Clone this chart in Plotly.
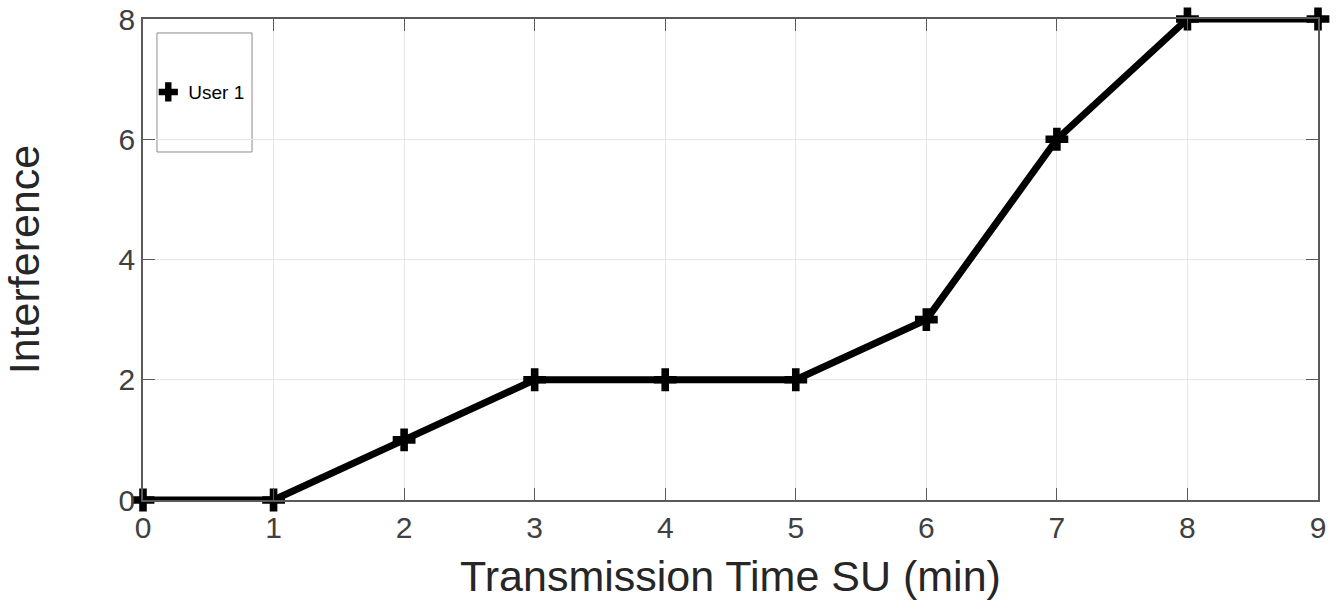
import plotly.graph_objects as go

x_vals = [0, 1, 2, 3, 4, 5, 6, 7, 8, 9]
user1 = [0, 0, 1, 2, 2, 2, 3, 6, 8, 8]
x_ticks = [0, 1, 2, 3, 4, 5, 6, 7, 8, 9]
y_ticks = [0, 2, 4, 6, 8]
series_name = "User 1"

FONT = "Liberation Sans, Arial, Helvetica"

fig = go.Figure()
fig.add_trace(go.Scatter(
    x=x_vals, y=user1, mode="lines+markers", name=series_name,
    line=dict(color="black", width=7),
    marker=dict(symbol="cross", size=19, color="black"),
    cliponaxis=False, showlegend=False,
))
# legend entry showing only the marker, as in the reference
fig.add_trace(go.Scatter(
    x=[None], y=[None], mode="markers", name=series_name,
    marker=dict(symbol="cross", size=16, color="black"),
    showlegend=True,
))

axis_common = dict(
    showgrid=True, gridcolor="#e6e6e6", gridwidth=1,
    showline=True, linecolor="#5a5a5a", linewidth=1.5, mirror="ticks",
    ticks="inside", ticklen=12, tickcolor="#5a5a5a",
    zeroline=False, automargin=False,
    tickfont=dict(family=FONT, size=30, color="#404040"),
)

fig.update_layout(
    width=1344, height=612,
    paper_bgcolor="white", plot_bgcolor="white",
    margin=dict(l=143, r=26, t=19, b=112),
    showlegend=True,
    legend=dict(
        x=0.0045, y=0.848, xanchor="left", yanchor="middle",
        bgcolor="rgba(0,0,0,0)", borderwidth=0,
        font=dict(family=FONT, size=19, color="black"),
        itemwidth=30,
    ),
    shapes=[dict(
        type="rect", xref="paper", yref="paper",
        x0=0.0119, x1=0.0928, y0=0.7235, y1=0.971,
        line=dict(color="#8c8c8c", width=1), fillcolor="white", layer="below",
    )],
    xaxis=dict(
        **axis_common, range=[0, 9], tickvals=x_ticks,
        title=dict(text="Transmission Time SU (min)",
                   font=dict(family=FONT, size=43, color="#262626"),
                   standoff=18),
    ),
    yaxis=dict(
        **axis_common, range=[0, 8], tickvals=y_ticks,
        title=dict(text="Interference",
                   font=dict(family=FONT, size=43, color="#262626"),
                   standoff=72),
    ),
)

fig.write_html("out.html", config={"displayModeBar": False},
               post_script="document.body.style.margin='0';")
